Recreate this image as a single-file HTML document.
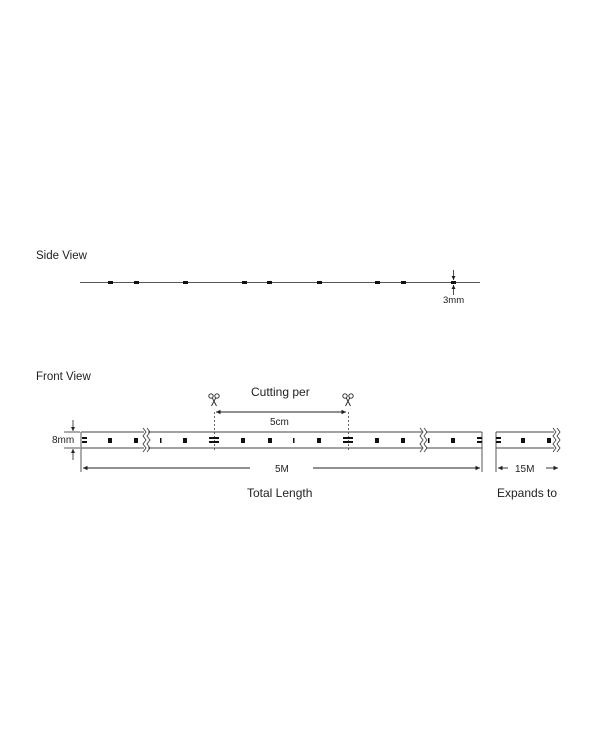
<!DOCTYPE html>
<html><head><style>body{margin:0;background:#fff}svg{display:block}text{font-family:"Liberation Sans",sans-serif;fill:#222}</style></head>
<body>
<svg width="600" height="741" viewBox="0 0 600 741" xmlns="http://www.w3.org/2000/svg">
<defs>
<marker id="a" markerWidth="6" markerHeight="6" refX="5" refY="3" orient="auto-start-reverse"><path d="M0,0.5 L5,3 L0,5.5z" fill="#222"/></marker>
<g id="sc" fill="none" stroke="#222" stroke-width="0.9"><circle cx="-3" cy="0" r="2.2"/><circle cx="3" cy="0" r="2.2"/><path d="M-1.8,1.8 L2.5,10 M1.8,1.8 L-2.5,10"/></g>
</defs>
<text x="36" y="259" font-size="11.5">Side View</text>
<line x1="80" y1="282.5" x2="480" y2="282.5" stroke="#555" stroke-width="1"/>
<g fill="#111">
<rect x="108" y="281" width="5" height="3"/><rect x="134" y="281" width="5" height="3"/><rect x="183" y="281" width="5" height="3"/>
<rect x="242" y="281" width="5" height="3"/><rect x="267" y="281" width="5" height="3"/><rect x="317" y="281" width="5" height="3"/>
<rect x="375" y="281" width="5" height="3"/><rect x="401" y="281" width="5" height="3"/><rect x="451" y="281" width="5" height="3"/>
</g>
<line x1="453.5" y1="270" x2="453.5" y2="280" stroke="#222" stroke-width="0.8" marker-end="url(#a)"/>
<line x1="453.5" y1="295" x2="453.5" y2="285" stroke="#222" stroke-width="0.8" marker-end="url(#a)"/>
<text x="443" y="303" font-size="9.5">3mm</text>

<text x="36" y="380" font-size="11.5">Front View</text>
<text x="251" y="396" font-size="12">Cutting per</text>
<use href="#sc" x="214" y="396"/>
<use href="#sc" x="348" y="396"/>
<line x1="216" y1="412" x2="346" y2="412" stroke="#222" stroke-width="0.9" marker-start="url(#a)" marker-end="url(#a)"/>
<text x="270" y="425" font-size="10">5cm</text>
<g stroke="#444" stroke-width="0.8" stroke-dasharray="2,2"><line x1="214.5" y1="412" x2="214.5" y2="450"/><line x1="348.5" y1="412" x2="348.5" y2="450"/></g>

<g stroke="#444" stroke-width="0.9" fill="none">
<line x1="81" y1="432" x2="144" y2="432"/><line x1="81" y1="448" x2="144" y2="448"/><line x1="81" y1="432" x2="81" y2="472"/>
<line x1="148" y1="432" x2="422" y2="432"/><line x1="148" y1="448" x2="422" y2="448"/>
<line x1="426" y1="432" x2="482" y2="432"/><line x1="426" y1="448" x2="482" y2="448"/><line x1="482" y1="432" x2="482" y2="472"/>
<line x1="496" y1="432" x2="554" y2="432"/><line x1="496" y1="448" x2="554" y2="448"/><line x1="496" y1="432" x2="496" y2="472"/>
<path d="M143,428 l3,4 l-3,4 l3,4 l-3,4 l3,4 l-3,4"/><path d="M147,428 l3,4 l-3,4 l3,4 l-3,4 l3,4 l-3,4"/>
<path d="M420,428 l3,4 l-3,4 l3,4 l-3,4 l3,4 l-3,4"/><path d="M424,428 l3,4 l-3,4 l3,4 l-3,4 l3,4 l-3,4"/>
<path d="M553,428 l3,4 l-3,4 l3,4 l-3,4 l3,4 l-3,4"/><path d="M557,428 l3,4 l-3,4 l3,4 l-3,4 l3,4 l-3,4"/>
<line x1="64" y1="432" x2="80" y2="432"/><line x1="64" y1="448" x2="80" y2="448"/>
</g>
<g fill="#111">
<rect x="82" y="437" width="5" height="2"/><rect x="82" y="441" width="5" height="2"/>
<rect x="108" y="438" width="4" height="5"/><rect x="134" y="438" width="4" height="5"/>
<rect x="160" y="438" width="1.5" height="5"/><rect x="183" y="438" width="4" height="5"/>
<rect x="209" y="437" width="10" height="2"/><rect x="209" y="441" width="10" height="2"/>
<rect x="241" y="438" width="4" height="5"/><rect x="268" y="438" width="4" height="5"/>
<rect x="293" y="438" width="1.5" height="5"/><rect x="317" y="438" width="4" height="5"/>
<rect x="343" y="437" width="10" height="2"/><rect x="343" y="441" width="10" height="2"/>
<rect x="375" y="438" width="4" height="5"/><rect x="401" y="438" width="4" height="5"/>
<rect x="428" y="438" width="1.5" height="5"/><rect x="451" y="438" width="4" height="5"/>
<rect x="477" y="437" width="5" height="2"/><rect x="477" y="441" width="5" height="2"/>
<rect x="496" y="437" width="5" height="2"/><rect x="496" y="441" width="5" height="2"/>
<rect x="521" y="438" width="4" height="5"/><rect x="547" y="438" width="4" height="5"/>
</g>
<line x1="73" y1="420" x2="73" y2="431" stroke="#222" stroke-width="0.8" marker-end="url(#a)"/>
<line x1="73" y1="460" x2="73" y2="449" stroke="#222" stroke-width="0.8" marker-end="url(#a)"/>
<text x="52" y="443" font-size="10">8mm</text>
<line x1="83" y1="468" x2="250" y2="468" stroke="#222" stroke-width="0.9" marker-start="url(#a)"/>
<line x1="313" y1="468" x2="480" y2="468" stroke="#222" stroke-width="0.9" marker-end="url(#a)"/>
<text x="275" y="472" font-size="10">5M</text>
<line x1="498" y1="468" x2="508" y2="468" stroke="#222" stroke-width="0.9" marker-start="url(#a)"/>
<line x1="546" y1="468" x2="558" y2="468" stroke="#222" stroke-width="0.9" marker-end="url(#a)"/>
<text x="515" y="472" font-size="10">15M</text>
<text x="247" y="497" font-size="12">Total Length</text>
<text x="497" y="497" font-size="12">Expands to</text>
</svg>
</body></html>
